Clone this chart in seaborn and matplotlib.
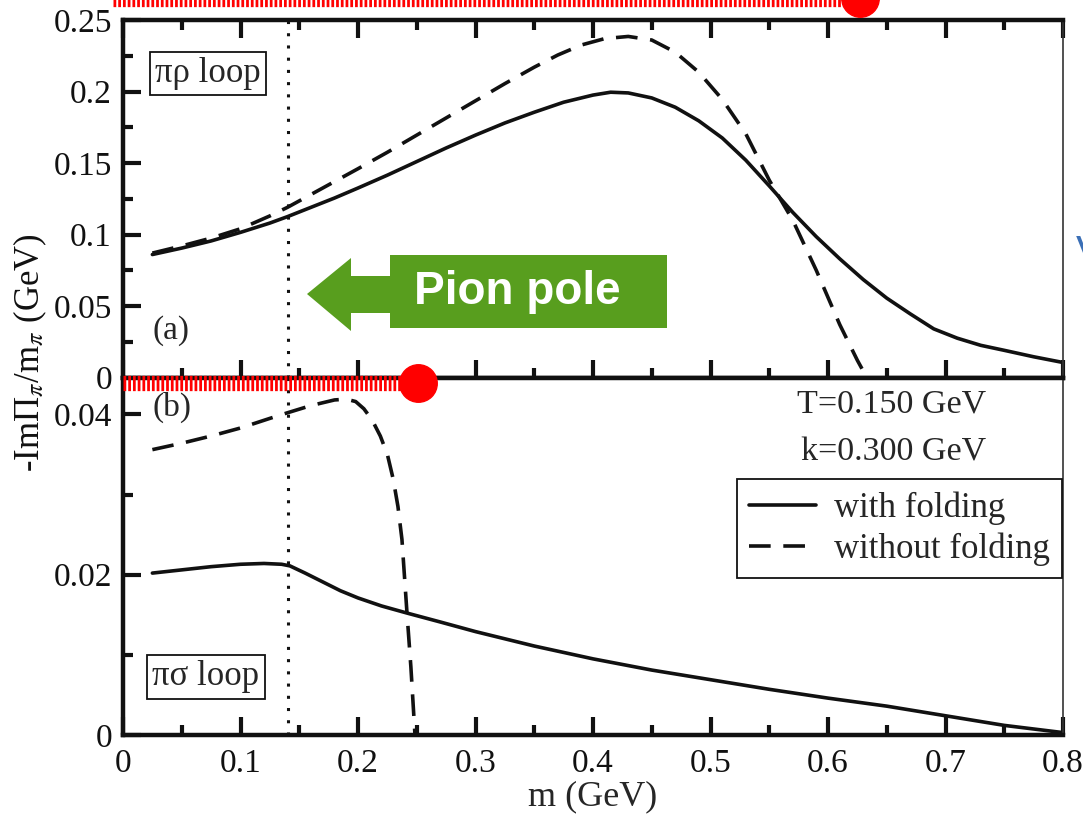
import numpy as np
import pandas as pd
import seaborn as sns
import matplotlib.pyplot as plt
from matplotlib.lines import Line2D
from matplotlib.patches import Polygon
from matplotlib.ticker import MultipleLocator

# pi-rho loop (panel a)
rho_with_m = [0.025, 0.05, 0.075, 0.1, 0.125, 0.14, 0.16, 0.18, 0.2, 0.225, 0.25, 0.275, 0.3, 0.325,
              0.35, 0.375, 0.4, 0.415, 0.43, 0.45, 0.47, 0.49, 0.51, 0.53, 0.55, 0.57, 0.59, 0.61,
              0.63, 0.65, 0.67, 0.69, 0.71, 0.73, 0.75, 0.775, 0.8]
rho_with_im = [0.086, 0.0905, 0.0955, 0.1015, 0.108, 0.1125, 0.119, 0.1255, 0.1325, 0.1415, 0.151, 0.1605,
               0.1695, 0.178, 0.1855, 0.1925, 0.1975, 0.1995, 0.199, 0.1955, 0.189, 0.1795, 0.1675, 0.152,
               0.134, 0.1155, 0.0985, 0.083, 0.0685, 0.0555, 0.0445, 0.034, 0.0275, 0.0225, 0.019, 0.0145,
               0.0105]
rho_without_m = [0.025, 0.05, 0.075, 0.1, 0.125, 0.14, 0.16, 0.18, 0.2, 0.225, 0.25, 0.275, 0.3, 0.325,
                 0.35, 0.37, 0.39, 0.41, 0.43, 0.45, 0.47, 0.49, 0.51, 0.53, 0.55, 0.57, 0.59, 0.61,
                 0.625, 0.633]
rho_without_im = [0.087, 0.092, 0.0975, 0.104, 0.113, 0.119, 0.128, 0.137, 0.146, 0.1575, 0.1695, 0.1815,
                  0.1935, 0.2055, 0.217, 0.2255, 0.2325, 0.237, 0.2385, 0.236, 0.2275, 0.2135, 0.1945,
                  0.1705, 0.138, 0.11, 0.075, 0.037, 0.012, 0.0]

# pi-sigma loop (panel b)
sig_with_m = [0.025, 0.05, 0.075, 0.1, 0.12, 0.135, 0.142, 0.155, 0.17, 0.185, 0.2, 0.22, 0.242, 0.27,
              0.3, 0.35, 0.4, 0.45, 0.5, 0.55, 0.6, 0.65, 0.7, 0.75, 0.8]
sig_with_im = [0.0202, 0.0206, 0.021, 0.0213, 0.0214, 0.0213, 0.0211, 0.0202, 0.0191, 0.018, 0.0171, 0.0161,
               0.0152, 0.0141, 0.0129, 0.0111, 0.0095, 0.0081, 0.0069, 0.0057, 0.0046, 0.0036, 0.0024,
               0.0012, 0.0003]
sig_without_m = [0.025, 0.05, 0.075, 0.1, 0.125, 0.14, 0.16, 0.18, 0.19, 0.198, 0.205, 0.212, 0.219,
                 0.225, 0.23, 0.234, 0.2374, 0.2417, 0.245, 0.2485]
sig_without_im = [0.0356, 0.0364, 0.0373, 0.0383, 0.0395, 0.0402, 0.0411, 0.0418, 0.0419, 0.0416, 0.0407,
                  0.0393, 0.0373, 0.035, 0.0319, 0.0285, 0.0244, 0.0152, 0.0085, 0.0]

pion_mass = 0.14
x_ticks = [0, 0.1, 0.2, 0.3, 0.4, 0.5, 0.6, 0.7, 0.8]
y_ticks_a = [0, 0.05, 0.1, 0.15, 0.2, 0.25]
y_ticks_b = [0, 0.02, 0.04]

labels = ["with folding", "without folding"]

def frame(mw, iw, mo, io):
    a = pd.DataFrame({"m": mw, "im": iw, "curve": labels[0]})
    b = pd.DataFrame({"m": mo, "im": io, "curve": labels[1]})
    return pd.concat([a, b], ignore_index=True)

df_a = frame(rho_with_m, rho_with_im, rho_without_m, rho_without_im)
df_b = frame(sig_with_m, sig_with_im, sig_without_m, sig_without_im)

sns.set_theme(style="white")
plt.rcParams["font.family"] = ["Liberation Serif", "DejaVu Serif"]
plt.rcParams["mathtext.fontset"] = "stix"
plt.rcParams["lines.solid_joinstyle"] = "round"
plt.rcParams["lines.dash_joinstyle"] = "round"

W, H = 1083, 815
fig = plt.figure(figsize=(W / 100, H / 100), dpi=100)
gs = fig.add_gridspec(2, 1, left=123 / W, right=1063 / W, top=1 - 20 / H, bottom=1 - 735 / H, hspace=0)
ax1 = fig.add_subplot(gs[0])
ax2 = fig.add_subplot(gs[1], sharex=ax1)

dash_map = {labels[0]: "", labels[1]: (6, 3.5)}
sns.lineplot(data=df_a, x="m", y="im", style="curve", dashes=dash_map, color="#111111",
             linewidth=2.6, ax=ax1, legend=False, sort=False)
sns.lineplot(data=df_b, x="m", y="im", style="curve", dashes=dash_map, color="#111111",
             linewidth=2.6, ax=ax2, sort=False)

for ax in (ax1, ax2):
    ax.axvline(pion_mass, color="#111111", lw=2.2, ls=(0, (1, 3)))
    ax.set_xlim(0, 0.8)
    ax.xaxis.set_minor_locator(MultipleLocator(0.05))
    ax.tick_params(which="both", direction="in", bottom=True, left=True, right=False,
                   width=3, colors="#111111", labelsize=24)
    ax.tick_params(which="major", length=13)
    ax.tick_params(which="minor", length=7)
    ax.tick_params(axis="y", pad=8)
    ax.tick_params(axis="x", pad=10)
    for s in ("top", "left", "bottom"):
        ax.spines[s].set_linewidth(3.2)
        ax.spines[s].set_color("#111111")
    ax.spines["right"].set_linewidth(1.2)
    ax.spines["right"].set_color("#333333")
    ax.set_xlabel("")
    ax.set_ylabel("")

ax1.tick_params(which="both", top=True)
ax2.tick_params(which="both", top=False)

ax1.set_ylim(0, 0.25)
ax1.set_yticks(y_ticks_a, [f"{v:g}" for v in y_ticks_a])
ax1.yaxis.set_minor_locator(MultipleLocator(0.025))
ax1.tick_params(labelbottom=False)

ax2.set_ylim(0, 0.0446)
ax2.set_yticks(y_ticks_b, [f"{v:g}" for v in y_ticks_b])
ax2.yaxis.set_minor_locator(MultipleLocator(0.01))
ax2.set_xticks(x_ticks, [f"{v:g}" for v in x_ticks])
ax2.set_xlabel("m (GeV)", fontsize=26, labelpad=1)

fig.text(30 / W, 1 - 353 / H, r"-ImΠ$_\pi$/m$_\pi$ (GeV)", rotation=90, ha="center", va="center",
         fontsize=25, color="#111111")

box = dict(boxstyle="square,pad=0.15", fc="white", ec="#111111", lw=1.3)
ax1.text(0.027, 0.2126, "πρ loop", fontsize=25, ha="left", va="center", bbox=box)
ax1.text(0.0255, 0.0328, "(a)", fontsize=24, ha="left", va="center")
ax2.text(0.0255, 0.0409, "(b)", fontsize=24, ha="left", va="center")
ax2.text(0.025, 0.00725, "πσ loop", fontsize=25, ha="left", va="center", bbox=box)
ax2.text(0.654, 0.04125, "T=0.150 GeV", fontsize=24.5, ha="center", va="center")
ax2.text(0.656, 0.03525, "k=0.300 GeV", fontsize=24.5, ha="center", va="center")

sns.move_legend(ax2, "upper left", bbox_to_anchor=(737 / W, 1 - 479 / H), bbox_transform=fig.transFigure,
                title=None, frameon=True, fancybox=False, fontsize=25, handlelength=1.93,
                handletextpad=0.52, labelspacing=0.22, borderpad=0.35, borderaxespad=0)
leg = ax2.get_legend()
leg.get_frame().set_edgecolor("#111111")
leg.get_frame().set_linewidth(1.3)
leg.get_frame().set_alpha(1)

# overlay decorations (pixel positions of the slide)
def fp(x, y):
    return x / W, 1 - y / H

for (x0, x1, y, xd, yd) in [(113, 855, -1, 860, -2), (123, 410, 383, 418, 383)]:
    (a0, b0), (a1, b1) = fp(x0, y), fp(x1, y)
    fig.add_artist(Line2D([a0, a1], [b0, b1], transform=fig.transFigure, color="#ff0000",
                          lw=11, ls=(0, (0.18, 0.13)), solid_capstyle="butt", dash_capstyle="butt"))
    cx, cy = fp(xd, yd)
    fig.add_artist(Line2D([cx], [cy], transform=fig.transFigure, marker="o", ms=27,
                          color="#ff0000", mec="#ff0000", ls="none"))

arrow_px = [(307, 294), (351, 258), (351, 276), (390, 276), (390, 255), (667, 255), (667, 328),
            (390, 328), (390, 313), (351, 313), (351, 331)]
fig.add_artist(Polygon([fp(x, y) for x, y in arrow_px], closed=True, transform=fig.transFigure,
                       fc="#589e1e", ec="none"))
fig.text(*fp(517, 292), "Pion pole", color="white", fontsize=33, fontweight="bold",
         family=["Liberation Sans", "DejaVu Sans"], ha="center", va="center")
fig.text(*fp(1076, 234), "V", color="#3b6fb6", fontsize=30, family=["Liberation Sans", "DejaVu Sans"],
         ha="left", va="top")

fig.savefig("out.png", dpi=100)
